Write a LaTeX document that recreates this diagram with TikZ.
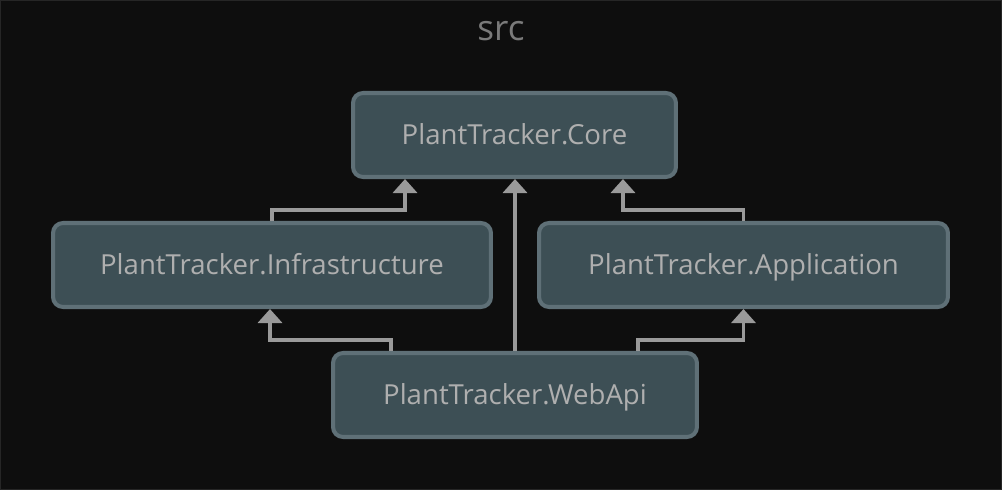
\documentclass[tikz,border=0pt]{standalone}
\usepackage{fontspec}
\setmainfont{Open Sans}
\usetikzlibrary{arrows.meta}
\definecolor{bgcol}{HTML}{0E0E0E}
\definecolor{boxfill}{HTML}{3D4F55}
\definecolor{boxline}{HTML}{5F7077}
\definecolor{txtcol}{HTML}{AFAFAF}
\definecolor{arrcol}{HTML}{9A9A9A}
\definecolor{titlecol}{HTML}{7A7A7A}
\tikzset{
    proj/.style={draw=boxline, fill=boxfill, line width=2.3pt, rounded corners=0.2cm,
        minimum height=1.68cm, text=txtcol, text height=11.2pt, text depth=0pt,
        font=\fontsize{15.7}{18}\selectfont},
    dep/.style={draw=arrcol, line width=2.2pt, -{Triangle[width=0.48cm,length=0.28cm]}}
}
\begin{document}
\begin{tikzpicture}[x=0.02cm, y=-0.02cm]
            \fill[bgcol] (0,0) rectangle (1002,490);   %background
            \draw[black!85!white, line width=0.4pt] (0.5,0.5) rectangle (1001.5,489.5);
            \node[text=titlecol, font=\fontsize{20}{24}\selectfont] (title) at (501,31) {src};
            \node[proj, minimum width=6.46cm] (core) at (514.5,135) {PlantTracker.Core};
            \node[proj, minimum width=8.76cm] (infra) at (272,265) {PlantTracker.Infrastructure};
            \node[proj, minimum width=8.18cm] (app) at (743.5,265) {PlantTracker.Application};
            \node[proj, minimum width=7.28cm] (web) at (515,395) {PlantTracker.WebApi};
            % upper level
            \draw[dep] (infra.north) -- ++(0,-11) -| ([xshift=-2.19cm]core.south);
            \draw[dep] (app.north) -- ++(0,-11) -| ([xshift=2.17cm]core.south);
            \draw[dep] (web.north) -- (web.north |- core.south);
            % lower level
            \draw[dep] ([xshift=-2.48cm]web.north) -- ++(0,-11) -| ([xshift=-0.04cm]infra.south);
            \draw[dep] ([xshift=2.46cm]web.north) -- ++(0,-11) -| (app.south);
\end{tikzpicture}
\end{document}
